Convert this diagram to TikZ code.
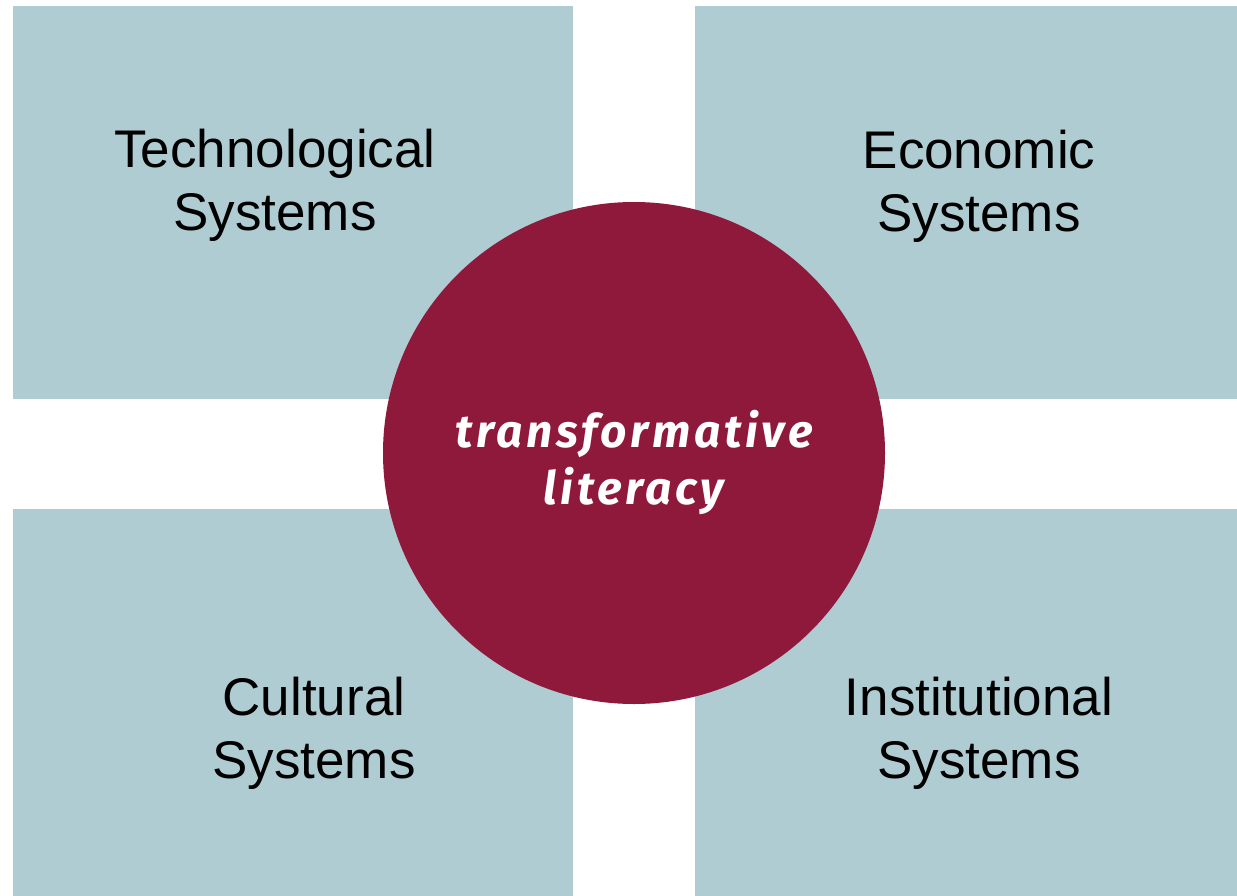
\documentclass[tikz,border=0pt]{standalone}
\usepackage{fontspec}
\usepackage{xcolor}
\setmainfont{Liberation Sans}
\newfontfamily\circfont[LetterSpace=8]{Fira Sans}
\definecolor{paleblue}{RGB}{175,204,211}
\definecolor{wine}{RGB}{143,25,58}

\tikzset{
  quadrant/.style={fill=paleblue},
  syslabel/.style={align=center, text=black, font=\fontsize{53}{63}\selectfont},
  corelabel/.style={align=center, text=white, font=\circfont\bfseries\itshape\fontsize{46}{57}\selectfont}
}

\begin{document}
\begin{tikzpicture}[x=1pt, y=-1pt]
        \useasboundingbox (0,0) rectangle (1237,896);
        
        % Four system blocks
        \fill[quadrant] (13,6) rectangle (573,399);
        \fill[quadrant] (695,6) rectangle (1237,399);
        \fill[quadrant] (13,509) rectangle (573,896);
        \fill[quadrant] (695,509) rectangle (1237,896);
        
        % Core circle
        \fill[wine] (634,453) circle (251);
        
        % Labels
        \node[syslabel] (tech) at (275,185) {Technological\\Systems};
        \node[syslabel] (econ) at (979,186) {Economic\\Systems};
        \node[syslabel] (cult) at (314,733) {Cultural\\Systems};
        \node[syslabel] (inst) at (979,733) {Institutional\\Systems};
        \node[corelabel] (core) at (634,462) {transformative\\literacy};
    \end{tikzpicture}
\end{document}
